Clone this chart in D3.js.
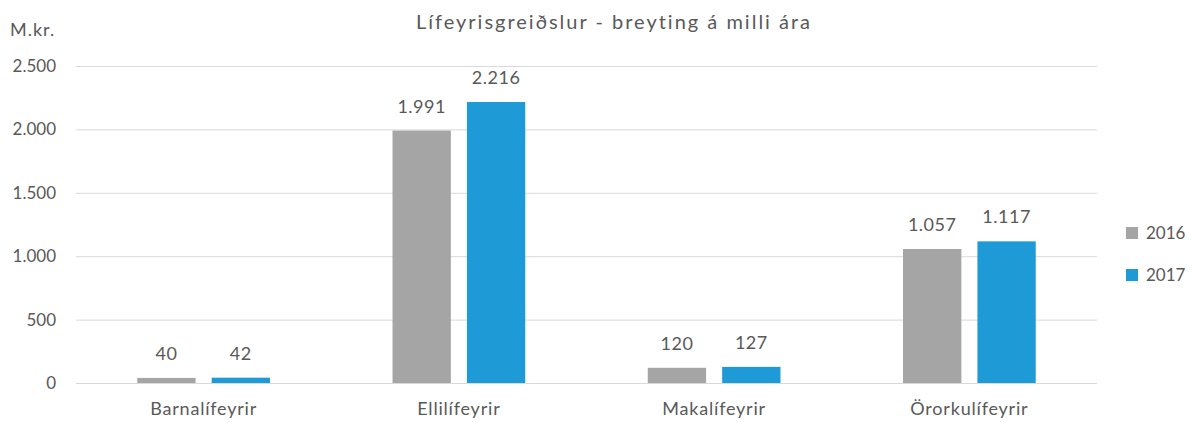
<!DOCTYPE html>
<html>
<head>
<meta charset="utf-8">
<script src="https://cdn.jsdelivr.net/npm/d3@7"></script>
<style>
  body { margin: 0; background: #fff; }
  svg text { font-family: Lato, "Open Sans", sans-serif; fill: #595959; }
</style>
</head>
<body>
<svg width="1194" height="423"></svg>
<script>
var categories = ['Barnalífeyrir', 'Ellilífeyrir', 'Makalífeyrir', 'Örorkulífeyrir']
var years = ['2016', '2017']
var values2016 = [40, 1991, 120, 1057]
var values2017 = [42, 2216, 127, 1117]
var yTicks = [0, 500, 1000, 1500, 2000, 2500]
var colors = ['#A5A5A5', '#1E9BD7']

var svg = d3.select('svg')
var fmt = function (v) { return d3.format(',')(v).replace(/,/g, '.') }

var x0 = d3.scaleBand()
    .domain(categories)
    .range([76, 1097])
    .paddingInner(0.48)
    .paddingOuter(0.24)

var x1 = d3.scaleBand()
    .domain(years)
    .range([0, x0.bandwidth()])
    .paddingInner(0.216)

var y = d3.scaleLinear()
    .domain([0, 2500])
    .range([383, 66])

var color = d3.scaleOrdinal().domain(years).range(colors)

// gridlines + y labels
var yAxis = d3.axisLeft(y)
    .tickValues(yTicks)
    .tickSize(-(1097 - 76))
    .tickPadding(20)
    .tickFormat(fmt)

svg.append('g')
    .attr('transform', 'translate(76,0)')
    .call(yAxis)
    .call(function (g) {
      g.select('.domain').remove()
      g.selectAll('.tick line').attr('stroke', '#D9D9D9').attr('stroke-width', 1)
      g.selectAll('.tick text').style('font-size', '17px').attr('fill', '#595959')
    })

// x labels
svg.append('g')
    .attr('transform', 'translate(0,383)')
    .call(d3.axisBottom(x0).tickSize(0).tickPadding(19))
    .call(function (g) {
      g.select('.domain').remove()
      g.selectAll('.tick text')
        .style('font-size', '18px')
        .style('letter-spacing', '0.8px')
        .attr('fill', '#595959')
    })

var rows = categories.map(function (c, i) {
  return { cat: c, vals: [ { year: '2016', v: values2016[i] }, { year: '2017', v: values2017[i] } ] }
})

var groups = svg.selectAll('g.grp')
    .data(rows)
  .enter().append('g')
    .attr('class', 'grp')
    .attr('transform', function (d) { return 'translate(' + x0(d.cat) + ',0)' })

groups.selectAll('rect')
    .data(function (d) { return d.vals })
  .enter().append('rect')
    .attr('x', function (d) { return x1(d.year) })
    .attr('width', x1.bandwidth())
    .attr('y', function (d) { return y(d.v) })
    .attr('height', function (d) { return y(0) - y(d.v) })
    .attr('fill', function (d) { return color(d.year) })

groups.selectAll('text.val')
    .data(function (d) { return d.vals })
  .enter().append('text')
    .attr('class', 'val')
    .attr('x', function (d) { return x1(d.year) + x1.bandwidth() / 2 })
    .attr('y', function (d) { return y(d.v) - 18 })
    .attr('text-anchor', 'middle')
    .style('font-size', '18px')
    .style('letter-spacing', '0.5px')
    .text(function (d) { return fmt(d.v) })

// title
svg.append('text')
    .attr('x', 614)
    .attr('y', 29)
    .attr('text-anchor', 'middle')
    .style('font-size', '20px')
    .style('letter-spacing', '2px')
    .text('Lífeyrisgreiðslur - breyting á milli ára')

// unit label
svg.append('text')
    .attr('x', 10)
    .attr('y', 36)
    .style('font-size', '18px')
    .style('letter-spacing', '1px')
    .text('M.kr.')

// legend
var legend = svg.selectAll('g.leg')
    .data(years)
  .enter().append('g')
    .attr('class', 'leg')
    .attr('transform', function (d, i) { return 'translate(1126,' + (227 + i * 42) + ')' })

legend.append('rect')
    .attr('width', 12)
    .attr('height', 12)
    .attr('fill', function (d) { return color(d) })

legend.append('text')
    .attr('x', 20)
    .attr('y', 12)
    .style('font-size', '17px')
    .text(function (d) { return d })
</script>
</body>
</html>
